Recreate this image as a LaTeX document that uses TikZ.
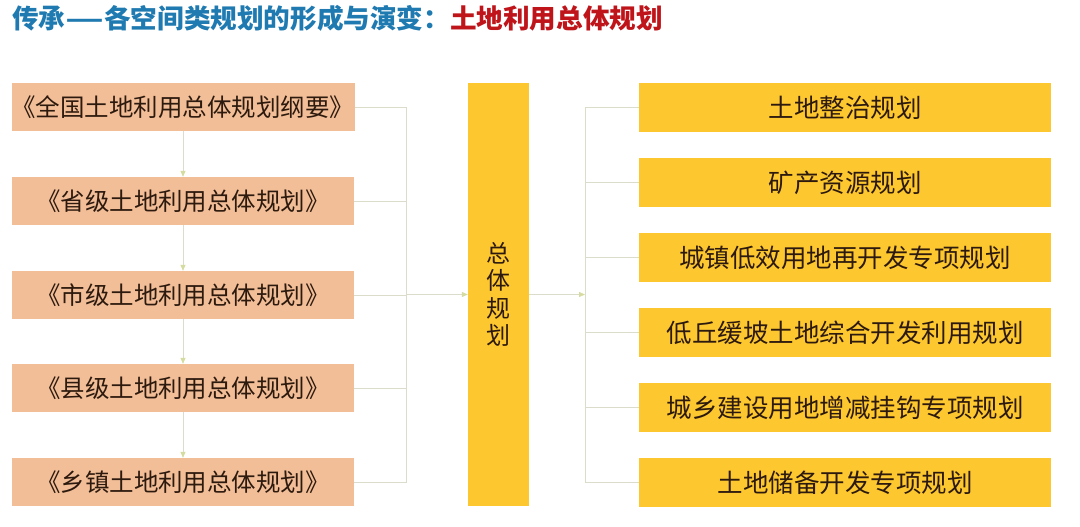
\documentclass[tikz,border=0pt]{standalone}
\usepackage{fontspec}
\usepackage{graphicx}
\setmainfont{Noto Sans CJK SC}
\usetikzlibrary{calc, arrows.meta}
\definecolor{peach}{RGB}{242,190,152}
\definecolor{gold}{RGB}{253,199,48}
\definecolor{linkgray}{RGB}{220,220,202}
\definecolor{tipgreen}{RGB}{214,220,160}
\definecolor{titleblue}{RGB}{30,122,176}
\definecolor{titlered}{RGB}{190,20,26}
\definecolor{ink}{RGB}{45,26,14}
\tikzset{
  level/.style={fill=peach, minimum width=342pt, minimum height=48pt, inner sep=0pt, text=ink, font=\fontsize{24.5}{28}\selectfont},
  special/.style={fill=gold, minimum width=412pt, minimum height=49pt, inner sep=0pt, text=ink, font=\fontsize{25.5}{30}\selectfont},
  link/.style={draw=linkgray, line width=0.8pt},
  flow/.style={link, -{Triangle[length=6pt,width=5pt,color=tipgreen,fill=tipgreen]}},
}

\begin{document}
\begin{tikzpicture}[x=1pt,y=-1pt]
    \fill[white] (0,0) rectangle (1080,527);
    \useasboundingbox (0,0) rectangle (1080,527);
    \node[anchor=west, inner sep=0pt, font=\bfseries\fontsize{26.6}{30}\selectfont] (title) at (12,18)
      {\textcolor{titleblue}{传承\scalebox{1.6}[1]{—}各空间类规划的形成与演变：}\textcolor{titlered}{土地利用总体规划}};

    \node[level] (L1) at (183,107) {《全国土地利用总体规划纲要》};
    \node[level] (L2) at (183,201) {《省级土地利用总体规划》};
    \node[level] (L3) at (183,295) {《市级土地利用总体规划》};
    \node[level] (L4) at (183,388) {《县级土地利用总体规划》};
    \node[level] (L5) at (183,482) {《乡镇土地利用总体规划》};

    \node[fill=gold, minimum width=61pt, minimum height=423pt, inner sep=0pt, text=ink, align=center,
      font=\fontsize{24}{27.5}\selectfont] (C) at (498.5,294.5) {总\\体\\规\\划};

    \node[special] (R1) at (845,107.5) {土地整治规划};
    \node[special] (R2) at (845,182.5) {矿产资源规划};
    \node[special] (R3) at (845,257.5) {城镇低效用地再开发专项规划};
    \node[special] (R4) at (845,332.5) {低丘缓坡土地综合开发利用规划};
    \node[special] (R5) at (845,407.5) {城乡建设用地增减挂钩专项规划};
    \node[special] (R6) at (845,482.5) {土地储备开发专项规划};

    \foreach \i/\j in {1/2,2/3,3/4,4/5}
      \draw[flow] (L\i.south) -- (L\j.north);
    \coordinate (lj) at (406,294.5);
    \foreach \i in {1,...,5}
      \draw[link] (L\i.east) -| (lj);
    \draw[flow] (lj) -- (C.west);

    \coordinate (rj) at (585,294.5);
    \draw[flow] (C.east) -- (rj);
    \draw[link] (rj |- R1.west) -- (rj |- R6.west);
    \foreach \i in {1,...,6}
      \draw[link] (rj |- R\i.west) -- (R\i.west);
\end{tikzpicture}
\end{document}
